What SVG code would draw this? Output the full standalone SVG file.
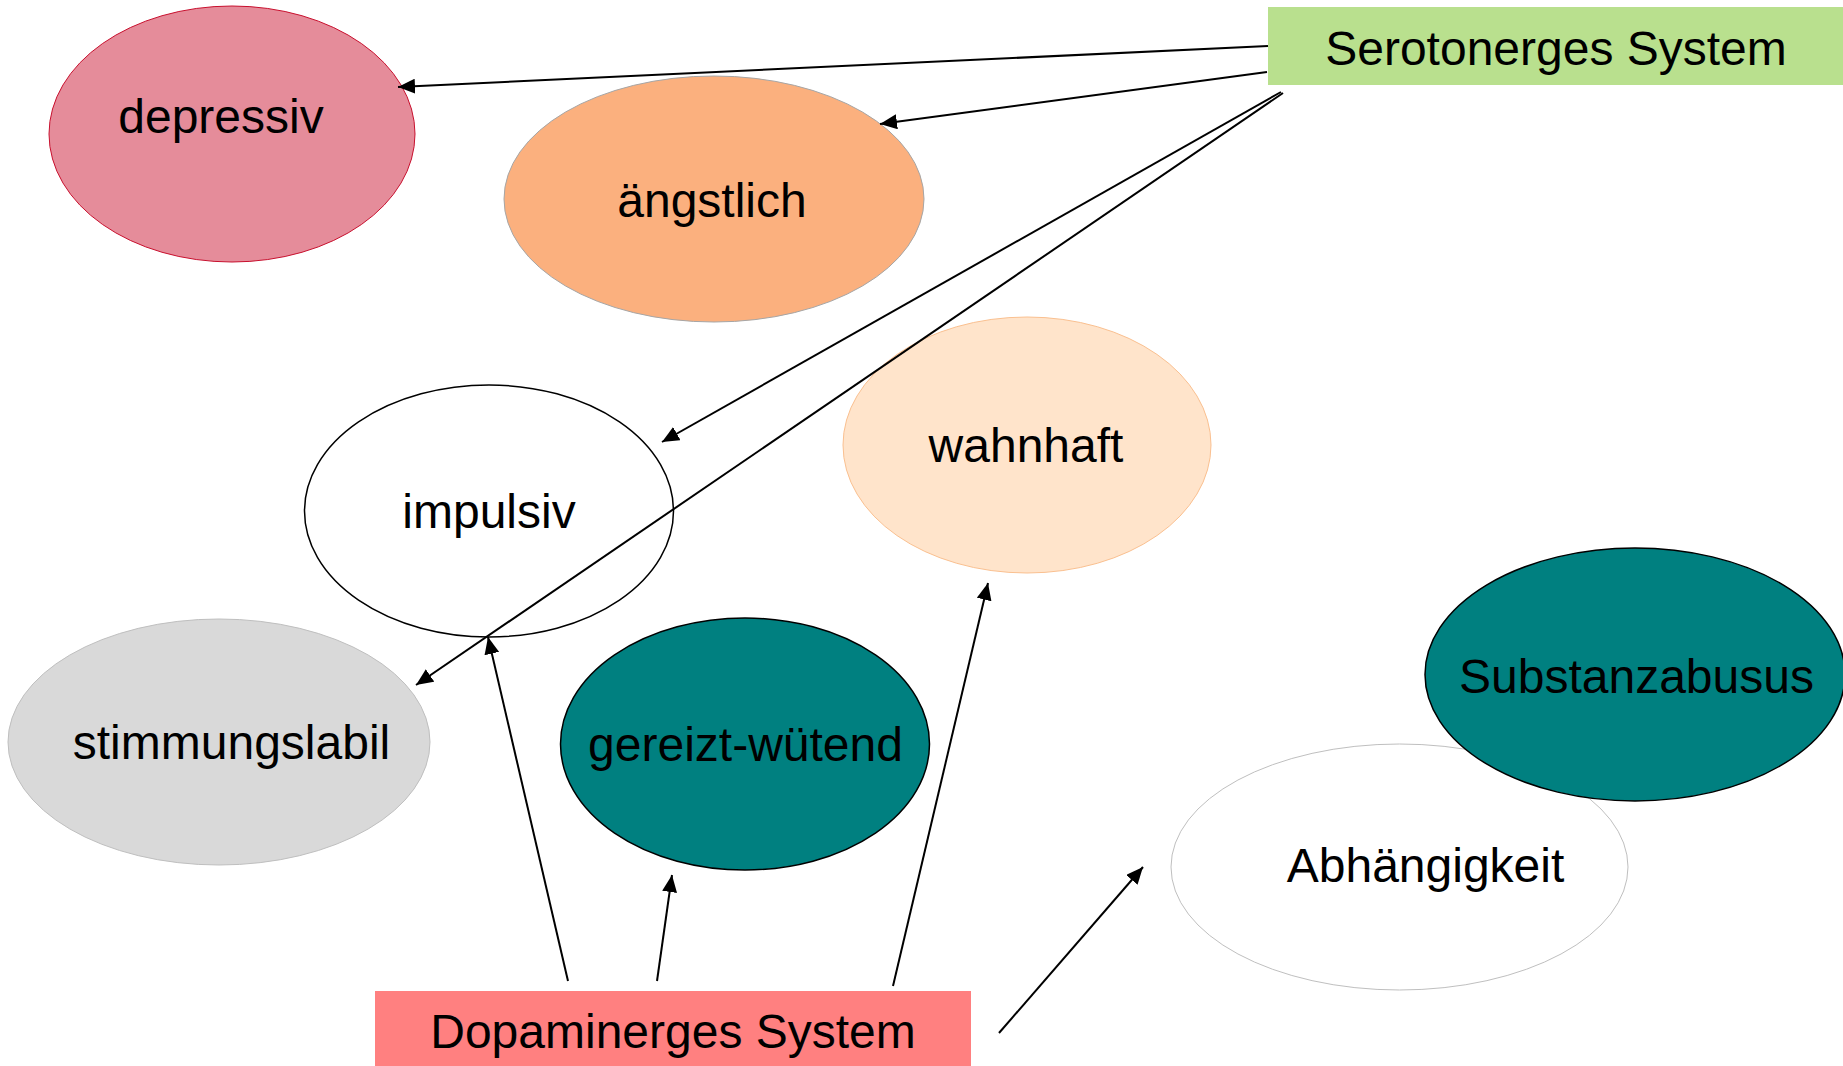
<svg xmlns="http://www.w3.org/2000/svg" width="1843" height="1066" viewBox="0 0 1843 1066">
<style>
  text { font-family: "Liberation Sans", Arial, sans-serif; font-size: 48px; fill: #000; text-anchor: middle; }
  .conn { stroke: #000; stroke-width: 2; fill: none; marker-end: url(#arrow); }
</style>
<defs>
  <marker id="arrow" markerUnits="userSpaceOnUse" viewBox="0 0 17 15" markerWidth="17" markerHeight="15" refX="17" refY="7.5" orient="auto">
    <path d="M0,0 L17,7.5 L0,15 z" fill="#000"/>
  </marker>
</defs>
<rect width="1843" height="1066" fill="#fff"/>

<g id="depressiv">
  <ellipse cx="232" cy="134" rx="183" ry="128" fill="#E58C9A" stroke="#C8102E" stroke-width="1"/>
  <text x="221" y="133">depressiv</text>
</g>
<g id="angstlich">
  <ellipse cx="714" cy="199" rx="210" ry="123" fill="#FBB07E" stroke="#A6A6A6" stroke-width="1"/>
  <text x="712" y="217">ängstlich</text>
</g>
<g id="wahnhaft">
  <ellipse cx="1027" cy="445" rx="184" ry="128" fill="#FFE4CB" stroke="#FAC090" stroke-width="1"/>
  <text x="1026" y="462">wahnhaft</text>
</g>
<g id="impulsiv">
  <ellipse cx="489" cy="511" rx="184.5" ry="126" fill="#fff" stroke="#000" stroke-width="1.5"/>
  <text x="489" y="528">impulsiv</text>
</g>
<g id="stimmungslabil">
  <ellipse cx="219" cy="742" rx="211" ry="123" fill="#D9D9D9" stroke="#BFBFBF" stroke-width="1"/>
  <text x="231.5" y="759">stimmungslabil</text>
</g>
<g id="gereizt">
  <ellipse cx="745" cy="744" rx="184.5" ry="126" fill="#008080" stroke="#000" stroke-width="1.5"/>
  <text x="745.5" y="761">gereizt-wütend</text>
</g>
<g id="abhaengigkeit">
  <ellipse cx="1399.5" cy="867" rx="228.5" ry="123" fill="#fff" stroke="#BFBFBF" stroke-width="1"/>
  <text x="1425.5" y="882">Abhängigkeit</text>
</g>
<g id="substanzabusus">
  <ellipse cx="1635" cy="674.5" rx="210" ry="126.5" fill="#008080" stroke="#000" stroke-width="1.5"/>
  <text x="1636.5" y="693">Substanzabusus</text>
</g>
<g id="serotonerg">
  <rect x="1268" y="7" width="575" height="78" fill="#B9E08E"/>
  <text x="1556" y="65">Serotonerges System</text>
</g>
<g id="dopaminerg">
  <rect x="375" y="991" width="596" height="75" fill="#FF8080"/>
  <text x="673" y="1048">Dopaminerges System</text>
</g>

<g id="connectors">
  <line class="conn" x1="1268" y1="46" x2="398" y2="87"/>
  <line class="conn" x1="1267" y1="72" x2="880" y2="124"/>
  <line class="conn" x1="1281" y1="92" x2="662" y2="442"/>
  <line class="conn" x1="1283" y1="93" x2="416" y2="685"/>
  <line class="conn" x1="568" y1="981" x2="488" y2="637"/>
  <line class="conn" x1="657" y1="981" x2="672" y2="875"/>
  <line class="conn" x1="893" y1="986" x2="988" y2="583"/>
  <line class="conn" x1="999" y1="1033" x2="1143" y2="867"/>
</g>
</svg>
